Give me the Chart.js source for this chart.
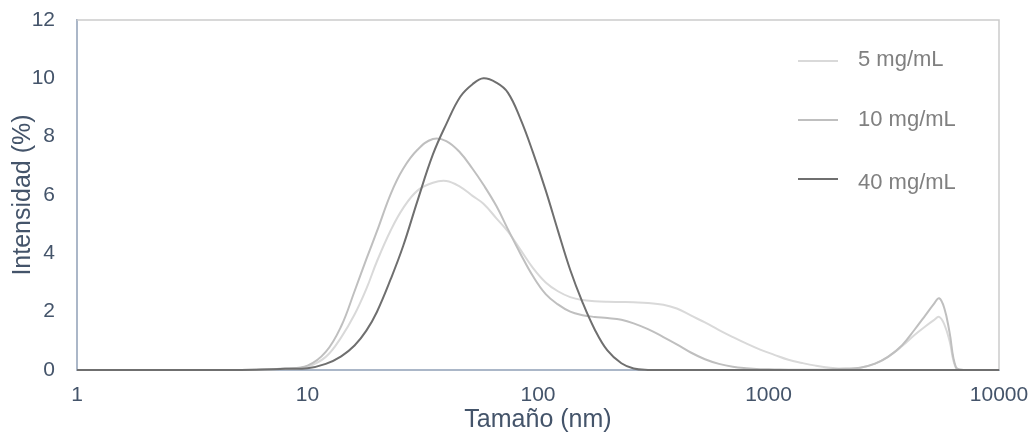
<!DOCTYPE html>
<html>
<head>
<meta charset="utf-8">
<script src="https://cdn.jsdelivr.net/npm/chart.js@4.4.1/dist/chart.umd.min.js"></script>
<style>
  html, body { margin: 0; padding: 0; background: #ffffff; }
  #wrap { width: 1036px; height: 436px; }
</style>
</head>
<body>
<div id="wrap"><canvas id="chart" width="1036" height="436"></canvas></div>
<script>
// Particle size (nm) at which the intensity distribution is sampled
const sizes = [1, 2, 4, 6, 8, 10, 12, 14, 16, 18, 20, 23, 26, 30, 35, 40, 46, 52, 58, 66,
  74, 84, 95, 108, 122, 138, 156, 176, 200, 230, 260, 300, 350, 400, 460, 530, 610, 700, 800, 920,
  1060, 1220, 1400, 1600, 1850, 2150, 2500, 2900, 3300, 3800, 4300, 4800, 5200, 5500, 5800, 6100, 6500, 7000, 8000, 10000];

// Intensity (%) for each concentration
const int5 = [0, 0, 0, 0.01, 0.04, 0.12, 0.45, 1.12, 1.9, 2.78, 3.72, 4.8, 5.55, 6.15, 6.42, 6.48, 6.28, 5.97, 5.7, 5.2,
  4.75, 4.12, 3.5, 3.0, 2.7, 2.5, 2.4, 2.36, 2.34, 2.33, 2.32, 2.3, 2.24, 2.11, 1.87, 1.63, 1.37, 1.13, 0.91, 0.7,
  0.52, 0.35, 0.24, 0.15, 0.08, 0.05, 0.08, 0.22, 0.45, 0.82, 1.2, 1.5, 1.7, 1.82, 1.55, 1.0, 0.08, 0, 0, 0];

const int10 = [0, 0, 0, 0.01, 0.05, 0.15, 0.62, 1.5, 2.7, 3.8, 4.75, 6.05, 6.9, 7.55, 7.92, 7.85, 7.45, 6.9, 6.35, 5.62,
  4.83, 3.98, 3.22, 2.6, 2.25, 2.0, 1.88, 1.82, 1.78, 1.72, 1.6, 1.4, 1.13, 0.88, 0.6, 0.37, 0.21, 0.11, 0.06, 0.03,
  0.02, 0.01, 0.01, 0.01, 0.02, 0.04, 0.08, 0.22, 0.45, 0.85, 1.38, 1.88, 2.25, 2.46, 2.1, 1.3, 0.1, 0, 0, 0];

const int40 = [0, 0, 0, 0.01, 0.04, 0.06, 0.21, 0.47, 0.84, 1.35, 1.99, 3.13, 4.25, 5.8, 7.39, 8.43, 9.37, 9.8, 10.0, 9.85,
  9.51, 8.6, 7.47, 6.16, 4.78, 3.43, 2.32, 1.4, 0.67, 0.23, 0.05, 0, 0, 0, 0, 0, 0, 0, 0, 0,
  0, 0, 0, 0, 0, 0, 0, 0, 0, 0, 0, 0, 0, 0, 0, 0, 0, 0, 0, 0];

const seriesLabels = ['5 mg/mL', '10 mg/mL', '40 mg/mL'];
const xTickValues = [1, 10, 100, 1000, 10000];
const yTickStep = 2;

const toPoints = (vals) => sizes.map((s, i) => ({ x: s, y: vals[i] }));

const axisText = '#44546a';
const axisLine = '#abb7c8';
const FONT = "'Liberation Sans', Arial, sans-serif";

// Legend drawn inside the plot area, on the right
const insideLegend = {
  id: 'insideLegend',
  afterDatasetsDraw(chart) {
    const ctx = chart.ctx;
    const lineY = [61, 120, 179];
    const textY = [60, 120, 183];
    ctx.save();
    ctx.font = '22px ' + FONT;
    ctx.textBaseline = 'middle';
    ctx.textAlign = 'left';
    chart.data.datasets.forEach((ds, i) => {
      ctx.strokeStyle = ds.borderColor;
      ctx.lineWidth = 2;
      ctx.beginPath();
      ctx.moveTo(798, lineY[i]);
      ctx.lineTo(838, lineY[i]);
      ctx.stroke();
      ctx.fillStyle = '#808080';
      ctx.fillText(ds.label, 858, textY[i]);
    });
    ctx.restore();
  }
};

// Top and right edges of the plot frame
const plotFrame = {
  id: 'plotFrame',
  beforeDatasetsDraw(chart) {
    const { left, right, top, bottom } = chart.chartArea;
    const ctx = chart.ctx;
    ctx.save();
    ctx.strokeStyle = '#cbcbcb';
    ctx.lineWidth = 1.5;
    ctx.beginPath();
    ctx.moveTo(left, top);
    ctx.lineTo(right, top);
    ctx.lineTo(right, bottom);
    ctx.stroke();
    ctx.restore();
  }
};

const common = {
  fill: false,
  pointRadius: 0,
  borderWidth: 2,
  tension: 0.4,
  clip: 6
};

new Chart(document.getElementById('chart'), {
  type: 'line',
  data: {
    datasets: [
      { ...common, label: seriesLabels[0], data: toPoints(int5), borderColor: '#d9d9d9', order: 3 },
      { ...common, label: seriesLabels[1], data: toPoints(int10), borderColor: '#bfbfbf', order: 2 },
      { ...common, label: seriesLabels[2], data: toPoints(int40), borderColor: '#6f6f6f', order: 1 }
    ]
  },
  options: {
    responsive: false,
    animation: false,
    devicePixelRatio: 1,
    layout: { padding: { left: 0, right: 37, top: 20, bottom: 0 } },
    plugins: {
      legend: { display: false },
      tooltip: { enabled: false }
    },
    scales: {
      x: {
        type: 'logarithmic',
        min: 1,
        max: 10000,
        grid: { display: false, drawTicks: false },
        border: { display: true, color: axisLine, width: 2 },
        afterBuildTicks: (scale) => { scale.ticks = xTickValues.map(v => ({ value: v })); },
        afterFit: (scale) => { scale.height = 66; scale.paddingLeft = 0; scale.paddingRight = 0; },
        ticks: {
          autoSkip: false,
          maxRotation: 0,
          padding: 13,
          color: axisText,
          font: { family: FONT, size: 21 },
          callback: (v) => String(v)
        },
        title: {
          display: true,
          text: 'Tamaño (nm)',
          color: axisText,
          font: { family: FONT, size: 25 },
          padding: { top: 0, bottom: 1 }
        }
      },
      y: {
        type: 'linear',
        min: 0,
        max: 12,
        grid: { display: false, drawTicks: false },
        border: { display: true, color: axisLine, width: 2 },
        afterFit: (scale) => { scale.width = 77; scale.paddingTop = 0; scale.paddingBottom = 0; },
        ticks: {
          stepSize: yTickStep,
          padding: 22,
          color: axisText,
          font: { family: FONT, size: 21 }
        },
        title: {
          display: true,
          text: 'Intensidad (%)',
          color: axisText,
          font: { family: FONT, size: 25 },
          padding: { top: 8, bottom: 0 }
        }
      }
    }
  },
  plugins: [plotFrame, insideLegend]
});
</script>
</body>
</html>
